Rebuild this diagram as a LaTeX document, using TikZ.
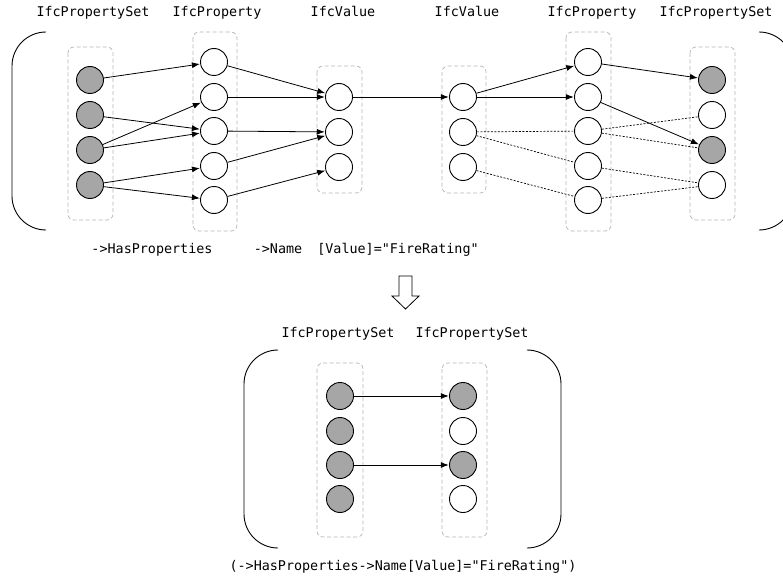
\documentclass[tikz,border=0pt]{standalone}
\usepackage{fontspec}
\setmonofont{DejaVu Sans Mono}
\usetikzlibrary{arrows.meta}
\definecolor{setgray}{HTML}{A6A6A6}
\definecolor{boxgray}{HTML}{B4B4B4}
\tikzset{
  obj/.style={circle,draw=black,line width=0.9pt,minimum size=27pt,inner sep=0pt},
  full/.style={obj,fill=setgray},
  empty/.style={obj,fill=white},
  group/.style={draw=boxgray,dashed,line width=0.7pt,rounded corners=6pt,dash pattern=on 4pt off 2.5pt},
  lbl/.style={font=\ttfamily\fontsize{13.4pt}{15pt}\selectfont,inner sep=0pt,anchor=base},
  rel/.style={line width=0.8pt,-{Latex[length=8pt,width=6pt]},shorten >=0.3pt},
  weak/.style={line width=0.7pt,dash pattern=on 2pt off 1.5pt},
  paren/.style={line width=0.9pt,rounded corners=34pt},
  hollowarrow/.style={draw=black,line width=0.8pt,fill=white,line join=miter},
}
\begin{document}
\begin{tikzpicture}[x=1pt,y=-1pt]
\useasboundingbox (0,0) rectangle (783,580);

% ---------- upper graph ----------
% outer parentheses
\draw[paren] (45,32) -- (12,32) -- (12,230) -- (45,230);
\draw[paren] (760,32) -- (793,32) -- (793,230) -- (760,230);

% dashed group frames
\draw[group] (68,47) rectangle (113,220);
\draw[group] (193,32) rectangle (237,231);
\draw[group] (317,66) rectangle (362,193);
\draw[group] (442,66) rectangle (486,193);
\draw[group] (566,32) rectangle (611,231);
\draw[group] (690,47) rectangle (735,220);

% column headings
\node[lbl] (h1) at (93,17) {IfcPropertySet};
\node[lbl] (h2) at (217,17) {IfcProperty};
\node[lbl] (h3) at (343,17) {IfcValue};
\node[lbl] (h4) at (467,17) {IfcValue};
\node[lbl] (h5) at (592,17) {IfcProperty};
\node[lbl] (h6) at (716,17) {IfcPropertySet};

% property sets (left)
\node[full] (s1) at (90,80) {};
\node[full] (s2) at (90,115) {};
\node[full] (s3) at (90,150) {};
\node[full] (s4) at (90,185) {};
% properties (left)
\node[empty] (p1) at (214,62) {};
\node[empty] (p2) at (214,97) {};
\node[empty] (p3) at (214,131) {};
\node[empty] (p4) at (214,166) {};
\node[empty] (p5) at (214,200) {};
% values (left)
\node[empty] (v1) at (339,97) {};
\node[empty] (v2) at (339,132) {};
\node[empty] (v3) at (339,167) {};
% values (right)
\node[empty] (w1) at (463,97) {};
\node[empty] (w2) at (463,132) {};
\node[empty] (w3) at (463,167) {};
% properties (right)
\node[empty] (q1) at (588,62) {};
\node[empty] (q2) at (588,97) {};
\node[empty] (q3) at (588,131) {};
\node[empty] (q4) at (588,166) {};
\node[empty] (q5) at (588,200) {};
% property sets (right)
\node[full]  (t1) at (712,80) {};
\node[empty] (t2) at (712,115) {};
\node[full]  (t3) at (712,150) {};
\node[empty] (t4) at (712,185) {};

% followed relations
\draw[rel] (s1) -- (p1);
\draw[rel] (s2) -- (p3);
\draw[rel] (s3) -- (p2);
\draw[rel] (s3) -- (p3);
\draw[rel] (s4) -- (p4);
\draw[rel] (s4) -- (p5);
\draw[rel] (p1) -- (v1);
\draw[rel] (p2) -- (v1);
\draw[rel] (p3) -- (v2);
\draw[rel] (p4) -- (v2);
\draw[rel] (p5) -- (v3);
\draw[rel] (v1) -- (w1);
\draw[rel] (w1) -- (q1);
\draw[rel] (w1) -- (q2);
\draw[rel] (q1) -- (t1);
\draw[rel] (q2) -- (t3);

% discarded relations
\draw[weak] (w2) -- (q3);
\draw[weak] (w2) -- (q4);
\draw[weak] (w3) -- (q5);
\draw[weak] (q3) -- (t2);
\draw[weak] (q3) -- (t3);
\draw[weak] (q4) -- (t4);
\draw[weak] (q5) -- (t4);

% path step labels
\node[lbl] (e1) at (152,253) {->HasProperties};
\node[lbl] (e2) at (278,253) {->Name};
\node[lbl] (e3) at (398,253) {[Value]="FireRating"};

% ---------- transition arrow ----------
\draw[hollowarrow] (399,276) -- (412,276) -- (412,296) -- (419,296)
  -- (405.5,309) -- (392,296) -- (399,296) -- cycle;

% ---------- lower graph ----------
\node[lbl] (g1) at (338,337) {IfcPropertySet};
\node[lbl] (g2) at (472,337) {IfcPropertySet};

\draw[paren] (278,350) -- (244,350) -- (244,548) -- (278,548);
\draw[paren] (527,350) -- (561,350) -- (561,548) -- (527,548);

\draw[group] (317,363) rectangle (363,537);
\draw[group] (442,363) rectangle (487,537);

\node[full] (a1) at (340,396) {};
\node[full] (a2) at (340,431) {};
\node[full] (a3) at (340,465) {};
\node[full] (a4) at (340,499) {};
\node[full]  (b1) at (463,396) {};
\node[empty] (b2) at (463,431) {};
\node[full]  (b3) at (463,465) {};
\node[empty] (b4) at (463,499) {};

\draw[rel] (a1) -- (b1);
\draw[rel] (a3) -- (b3);

\node[lbl] (res) at (403,570) {(->HasProperties->Name[Value]="FireRating")};
\end{tikzpicture}
\end{document}
